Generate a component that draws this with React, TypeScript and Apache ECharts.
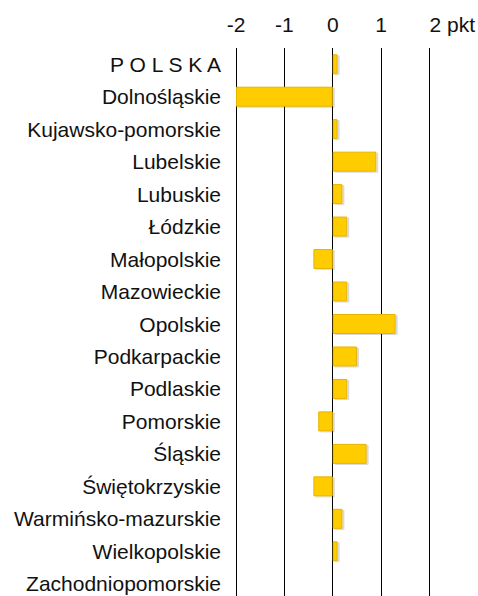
import React, { useEffect, useRef } from "react";
import * as echarts from "echarts";

const categories = [
  "P O L S K A",
  "Dolnośląskie",
  "Kujawsko-pomorskie",
  "Lubelskie",
  "Lubuskie",
  "Łódzkie",
  "Małopolskie",
  "Mazowieckie",
  "Opolskie",
  "Podkarpackie",
  "Podlaskie",
  "Pomorskie",
  "Śląskie",
  "Świętokrzyskie",
  "Warmińsko-mazurskie",
  "Wielkopolskie",
  "Zachodniopomorskie",
];
const values = [0.1, -2.0, 0.1, 0.9, 0.2, 0.3, -0.4, 0.3, 1.3, 0.5, 0.3, -0.3, 0.7, -0.4, 0.2, 0.1, 0];
const unit = "pkt";

export default function App() {
  const ref = useRef<HTMLDivElement>(null);
  useEffect(() => {
    const chart = echarts.init(ref.current!, null, { renderer: "svg" });
    chart.setOption({
      animation: false,
      grid: { left: 236, right: 48, top: 48, height: 552, containLabel: false },
      xAxis: {
        type: "value",
        position: "top",
        min: -2,
        max: 2,
        interval: 1,
        axisLine: { show: false },
        axisTick: { show: false },
        splitLine: { show: true, lineStyle: { color: "#000", width: 1 } },
        axisLabel: {
          margin: 13,
          fontSize: 21,
          color: "#111",
          fontFamily: "Liberation Sans, Arial, sans-serif",
          alignMaxLabel: "left",
          formatter: (v: number) => (v === 2 ? `2 ${unit}` : String(v)),
        },
      },
      yAxis: {
        type: "category",
        inverse: true,
        data: categories,
        axisLine: { show: false },
        axisTick: { show: false },
        axisLabel: {
          margin: 15,
          fontSize: 21,
          color: "#111",
          fontFamily: "Liberation Sans, Arial, sans-serif",
        },
      },
      series: [
        {
          type: "bar",
          data: values,
          barWidth: 20,
          itemStyle: {
            color: "#FFCC00",
            borderColor: "#E5B400",
            borderWidth: 1,
            shadowColor: "rgba(0,0,0,0.15)",
            shadowOffsetX: 2,
            shadowOffsetY: 1,
            shadowBlur: 0,
          },
        },
      ],
    });
    return () => chart.dispose();
  }, []);
  return (
    <div
      ref={ref}
      style={{ position: "fixed", left: 0, top: 0, width: 478, height: 604, background: "#fff" }}
    />
  );
}
